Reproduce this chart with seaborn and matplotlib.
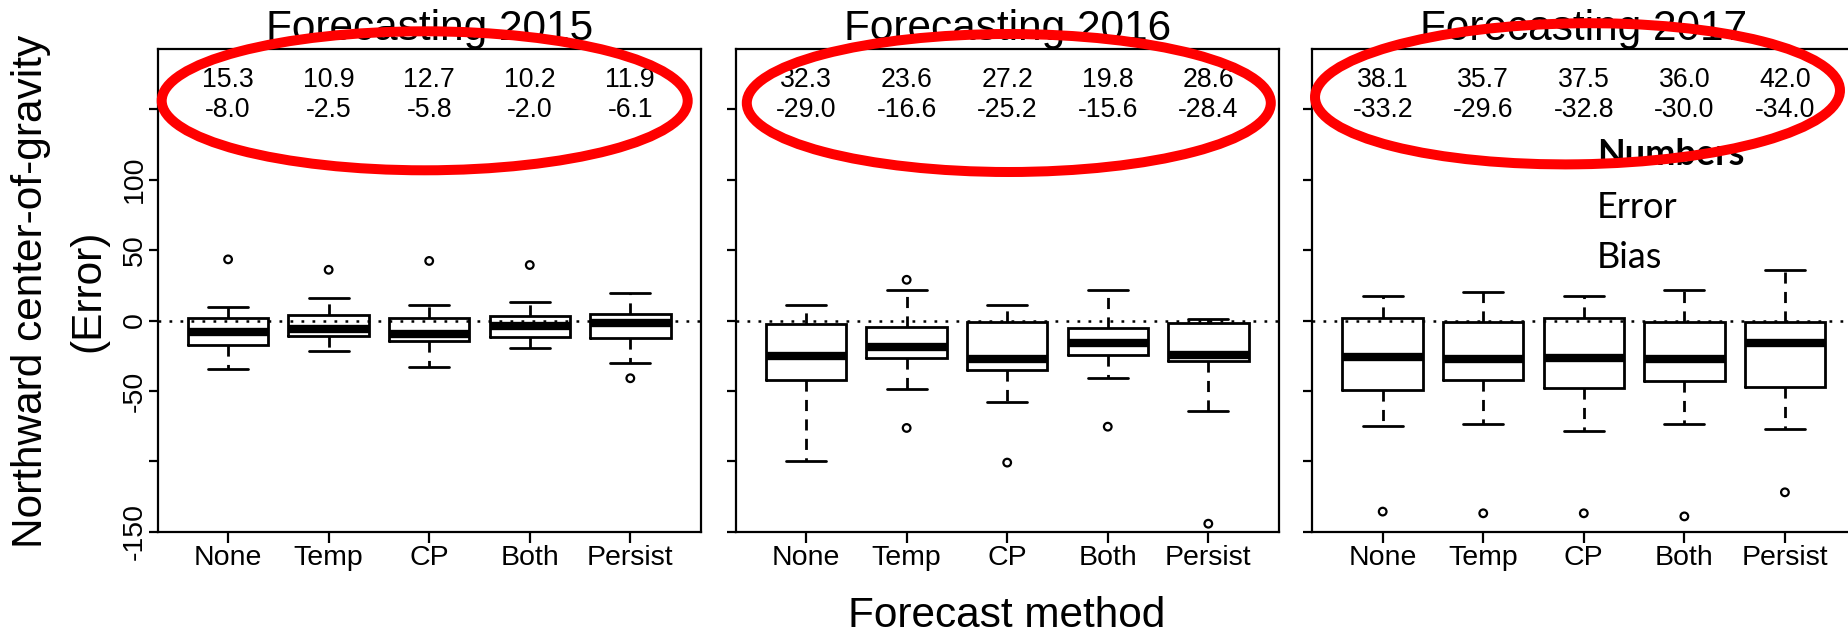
import numpy as np
import pandas as pd
import matplotlib
matplotlib.use("Agg")
import matplotlib.pyplot as plt
from matplotlib.patches import Ellipse
from matplotlib import transforms
import seaborn as sns

# ---------------- data ----------------
methods = ["None", "Temp", "CP", "Both", "Persist"]
years = ["2015", "2016", "2017"]

lower_whisker = [
    [-34.7, -21.7, -32.8, -19.8, -30.0],
    [-100.0, -48.6, -57.7, -41.1, -64.3],
    [-74.6, -73.4, -78.3, -73.4, -77.1],
]
lower_quartile = [
    [-17.4, -11.0, -14.6, -12.0, -12.7],
    [-42.0, -26.3, -35.4, -24.6, -28.5],
    [-49.4, -42.3, -47.7, -42.9, -46.9],
]
median = [
    [-8.4, -5.8, -9.8, -4.2, -2.0],
    [-25.4, -18.6, -27.1, -16.3, -24.5],
    [-26.0, -27.1, -26.3, -27.1, -16.3],
]
upper_quartile = [
    [2.0, 3.9, 2.0, 3.2, 4.6],
    [-2.6, -4.3, -1.1, -5.4, -2.0],
    [2.0, -1.1, 2.0, -1.4, -1.1],
]
upper_whisker = [
    [9.4, 15.8, 11.2, 12.9, 19.3],
    [10.9, 21.4, 10.9, 22.0, 1.1],
    [17.1, 20.3, 17.1, 22.0, 36.0],
]
outliers = [
    [[43.4], [36.0], [42.3], [39.4], [-41.0]],
    [[], [28.9, -76.3], [-100.9], [-75.4], [-144.3]],
    [[-135.7], [-136.9], [-136.9], [-139.1], [-122.0]],
]
error_numbers = [
    ["15.3", "10.9", "12.7", "10.2", "11.9"],
    ["32.3", "23.6", "27.2", "19.8", "28.6"],
    ["38.1", "35.7", "37.5", "36.0", "42.0"],
]
bias_numbers = [
    ["-8.0", "-2.5", "-5.8", "-2.0", "-6.1"],
    ["-29.0", "-16.6", "-25.2", "-15.6", "-28.4"],
    ["-33.2", "-29.6", "-32.8", "-30.0", "-34.0"],
]
ytick_values = [-150, -100, -50, 0, 50, 100, 150]
ytick_labels = ["-150", "", "-50", "0", "50", "100", ""]
legend_lines = ["Numbers", "Error", "Bias"]

# ---------------- tidy tables ----------------
box_rows, out_rows = [], []
for yi, yr in enumerate(years):
    for mi, m in enumerate(methods):
        for stat in (lower_whisker, lower_quartile, median, upper_quartile, upper_whisker):
            box_rows.append((yr, m, stat[yi][mi]))
        for v in outliers[yi][mi]:
            out_rows.append((yr, m, v))
box_df = pd.DataFrame(box_rows, columns=["year", "method", "value"])
out_df = pd.DataFrame(out_rows, columns=["year", "method", "value"])

# ---------------- style ----------------
sns.set_style("white")
plt.rcParams["font.family"] = ["Liberation Sans", "DejaVu Sans"]

W, H = 1849, 633
fig = plt.figure(figsize=(W / 100, H / 100), dpi=100)
fig.patch.set_facecolor("white")

panel_left_px = [157.7, 735.7, 1312.3]
panel_w_px = 543.0
ax_bottom = (H - 532.3) / H
ax_height = (532.3 - 49.0) / H

for i, yr in enumerate(years):
    ax = fig.add_axes([panel_left_px[i] / W, ax_bottom, panel_w_px / W, ax_height])
    ax.axhline(0, color="black", lw=1.8, ls=(0, (1.1, 3.3)), zorder=1)
    sns.boxplot(
        data=box_df[box_df["year"] == yr], x="method", y="value", order=methods,
        ax=ax, fill=False, width=0.8, whis=(0, 100), color="black",
        linecolor="black", linewidth=2.0, showfliers=False,
        medianprops={"linewidth": 6.0, "solid_capstyle": "butt", "color": "black"},
        whiskerprops={"linestyle": (0, (4.0, 3.0)), "color": "black", "linewidth": 2.0},
        capprops={"color": "black", "linewidth": 2.0},
        boxprops={"solid_joinstyle": "miter", "color": "black", "linewidth": 2.0},
    )
    sub_out = out_df[out_df["year"] == yr]
    if len(sub_out):
        sns.stripplot(
            data=sub_out, x="method", y="value", order=methods, ax=ax,
            jitter=False, color="black", facecolor="none", edgecolor="black",
            linewidth=1.6, size=5.5, zorder=4,
        )
    ax.set_xlim(-0.7, 4.7)
    ax.set_ylim(-150.4, 192.8)
    ax.set_xlabel("")
    ax.set_ylabel("")
    ax.set_xticks(range(len(methods)))
    ax.set_xticklabels(methods)
    ax.set_yticks(ytick_values)
    for s in ax.spines.values():
        s.set_visible(True)
        s.set_color("black")
        s.set_linewidth(1.6)
    ax.tick_params(axis="x", bottom=True, direction="out", length=8, width=1.6,
                   color="black", labelsize=20.5, pad=1, labelcolor="black")
    ax.tick_params(axis="y", left=True, direction="out", length=6.8, width=1.6,
                   color="black", labelsize=20.5, pad=0.5, labelcolor="black",
                   labelrotation=90)
    if i == 0:
        ax.set_yticklabels(ytick_labels)
        for lab in ax.get_yticklabels():
            lab.set_va("center")
    else:
        ax.set_yticklabels([])

    tr = transforms.blended_transform_factory(ax.transData, ax.transAxes)
    for j in range(len(methods)):
        ax.text(j, 0.922, error_numbers[i][j], transform=tr, ha="center",
                va="baseline", fontsize=19.2, color="black")
        ax.text(j, 0.860, bias_numbers[i][j], transform=tr, ha="center",
                va="baseline", fontsize=19.2, color="black")

    cx = (panel_left_px[i] + panel_w_px / 2) / W
    fig.text(cx, (H - 40) / H, f"Forecasting {yr}", ha="center", va="baseline",
             fontsize=30.5, color="black")

# axis labels
fig.text(31 / W, (H - 291) / H, "Northward center-of-gravity", rotation=90,
         ha="center", va="center", fontsize=30.5, color="black")
fig.text(88.5 / W, (H - 291) / H, "(Error)", rotation=90,
         ha="center", va="center", fontsize=30.5, color="black")
fig.text(1007 / W, (H - 627) / H, "Forecast method", ha="center", va="baseline",
         fontsize=30.5, color="black")

# side legend text
legend_baselines = [165, 217.7, 268]
for k, txt in enumerate(legend_lines):
    fig.text(1597 / W, (H - legend_baselines[k]) / H, txt, ha="left",
             va="baseline", fontsize=26, family=["Lato", "DejaVu Sans"],
             fontweight="bold" if k == 0 else "normal", color="black")

# red highlight ellipses (in inches, figure coords)
ellipses = [(424.7, 100.8, 526, 139, 0), (1008.8, 103, 524, 138, 0),
            (1577.5, 93.8, 525, 141, 0.8)]
for cxp, cyp, wp, hp, ang in ellipses:
    e = Ellipse(((cxp) / 100, (H - cyp) / 100), wp / 100, hp / 100, angle=ang,
                transform=fig.dpi_scale_trans, fill=False, edgecolor="#ff0000",
                linewidth=7.2, zorder=20)
    fig.add_artist(e)

fig.savefig("out.png", dpi=100, facecolor="white")
